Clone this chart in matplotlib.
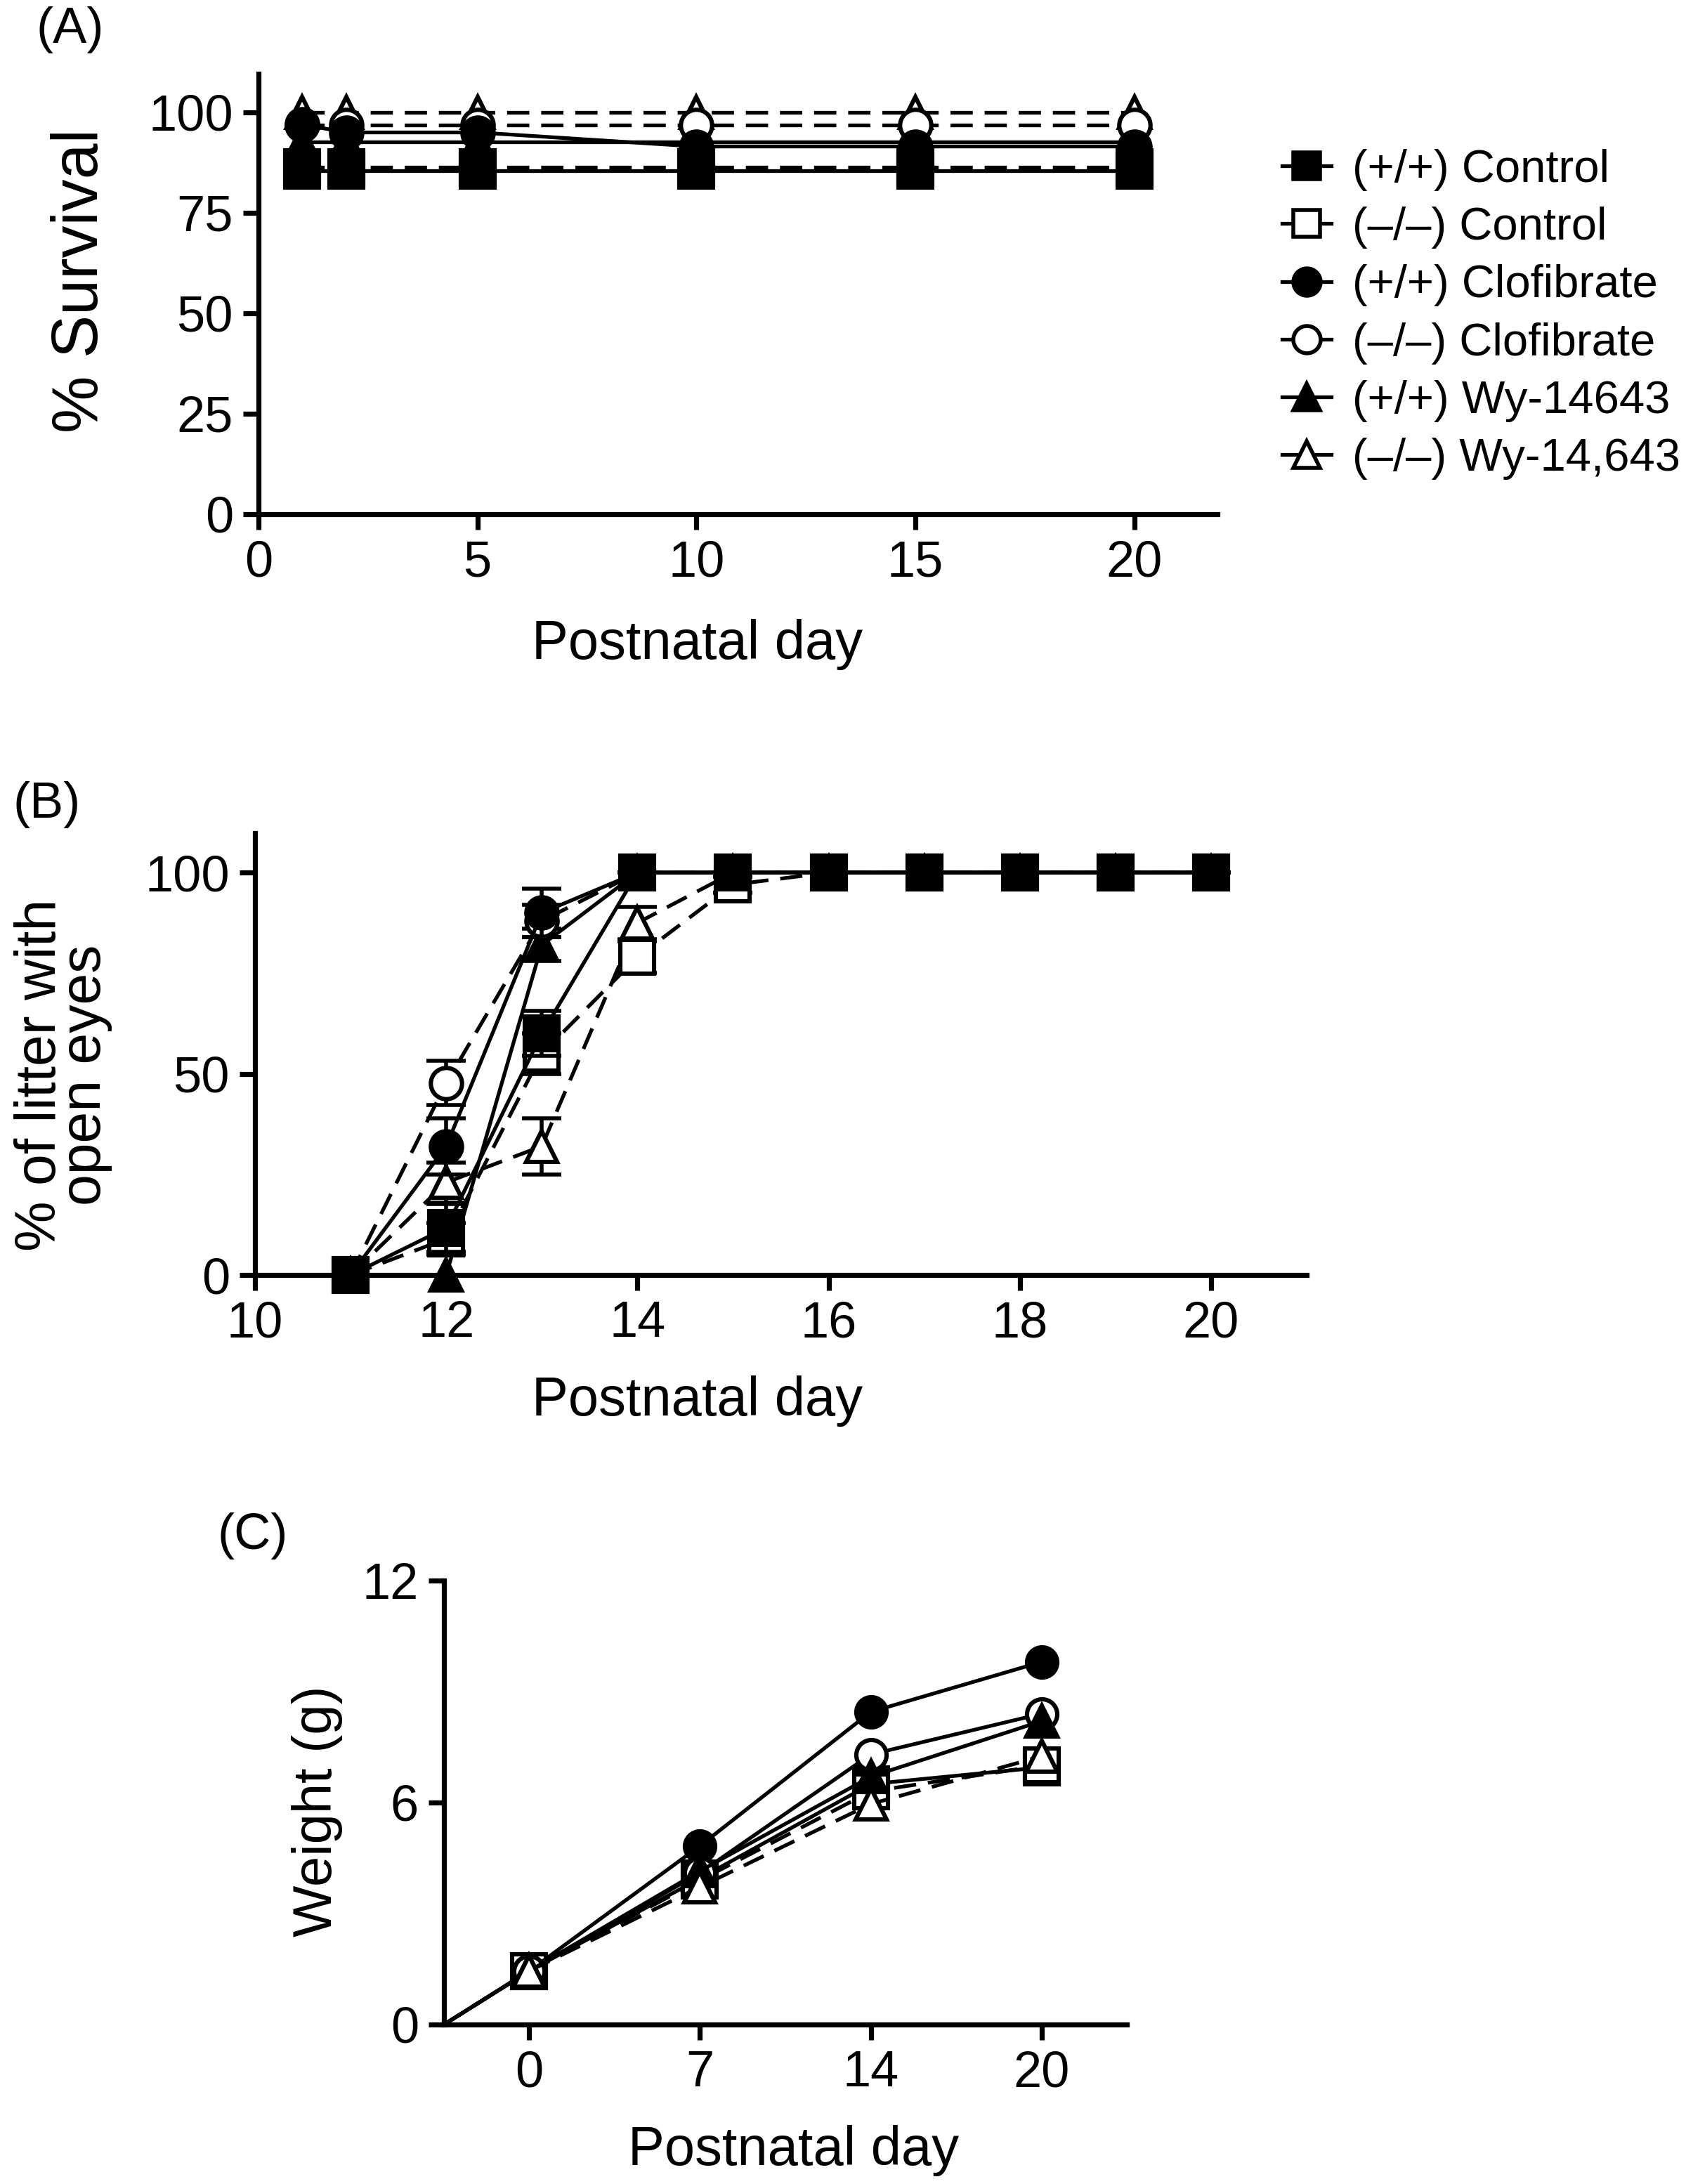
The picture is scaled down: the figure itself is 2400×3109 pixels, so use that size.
import matplotlib
matplotlib.use("Agg")
import matplotlib.pyplot as plt
from matplotlib.lines import Line2D

plt.rcParams["font.family"] = ["Liberation Sans", "DejaVu Sans"]

W, H = 2400, 3109
DPI = 200

# series (same order in all panels)
labels = ["(+/+) Control", "(\u2013/\u2013) Control",
          "(+/+) Clofibrate", "(\u2013/\u2013) Clofibrate",
          "(+/+) Wy-14643", "(\u2013/\u2013) Wy-14,643"]
markers = ["s", "s", "o", "o", "^", "^"]
filled = [True, False, True, False, True, False]
dashed = [False, True, False, True, False, True]
c_dashed = [False, True, False, False, False, True]

# (A) survival
a_days = [1, 2, 5, 10, 15, 20]
a_ctrl_wt = [85.5, 85.5, 85.5, 85.5, 85.5, 85.5]
a_ctrl_ko = [86.4, 86.4, 86.4, 86.4, 86.4, 86.4]
a_clof_wt = [97.0, 95.0, 95.0, 91.5, 91.5, 91.5]
a_clof_ko = [96.9, 96.9, 96.9, 96.9, 96.9, 96.9]
a_wy_wt = [92.7, 92.7, 92.7, 92.7, 92.7, 92.7]
a_wy_ko = [100, 100, 100, 100, 100, 100]

# (B) % of litter with open eyes
b_days = [11, 12, 13, 14, 15, 16, 17, 18, 19, 20]
b_ctrl_wt = [0, 11.7, 60, 100, 100, 100, 100, 100, 100, 100]
b_ctrl_ko = [0, 9, 55, 79, 97, 100, 100, 100, 100, 100]
b_clof_wt = [0, 32, 90, 100, 100, 100, 100, 100, 100, 100]
b_clof_ko = [0, 47.7, 88, 100, 100, 100, 100, 100, 100, 100]
b_wy_wt = [0, 0, 82, 100, 100, 100, 100, 100, 100, 100]
b_wy_ko = [0, 23, 32, 87.5, 100, 100, 100, 100, 100, 100]
b_ctrl_wt_err = [0, 6, 5.6, 0, 0, 0, 0, 0, 0, 0]
b_ctrl_ko_err = [0, 4, 5, 4, 2, 0, 0, 0, 0, 0]
b_clof_wt_err = [0, 7, 6, 0, 0, 0, 0, 0, 0, 0]
b_clof_ko_err = [0, 5.5, 4, 0, 0, 0, 0, 0, 0, 0]
b_wy_wt_err = [0, 0, 4, 0, 0, 0, 0, 0, 0, 0]
b_wy_ko_err = [0, 5, 7, 4, 0, 0, 0, 0, 0, 0]

# (C) weight
c_days = ["0", "7", "14", "20"]
c_start = 0.0
c_ctrl_wt = [1.45, 3.95, 6.5, 6.95]
c_ctrl_ko = [1.45, 3.9, 6.3, 7.0]
c_clof_wt = [1.45, 4.83, 8.45, 9.8]
c_clof_ko = [1.45, 4.1, 7.3, 8.4]
c_wy_wt = [1.45, 4.15, 6.7, 8.2]
c_wy_ko = [1.45, 3.72, 5.96, 7.25]

LW = 1.9
DASH = (0, (6, 3.2))


def px_axes(fig, x0, y0, x1, y1):
    # x0,y0 = left/top pixel, x1,y1 = right/bottom pixel
    return fig.add_axes([x0 / W, 1 - y1 / H, (x1 - x0) / W, (y1 - y0) / H])


def style(ax):
    for s in ["top", "right"]:
        ax.spines[s].set_visible(False)
    for s in ["left", "bottom"]:
        ax.spines[s].set_linewidth(2.6)
    ax.tick_params(width=2.6, length=8, labelsize=26, pad=5)


def draw(ax, x, y, i, ms, z, err=None, dash=None):
    mfc = "black" if filled[i] else "white"
    if dash is None:
        dash = dashed[i]
    ls = DASH if dash else "-"
    if err is not None:
        ax.errorbar(x, y, yerr=err, fmt="none", ecolor="black", elinewidth=2,
                    capsize=10, capthick=2, zorder=z - 0.5, clip_on=False)
    ax.plot(x, y, linestyle=ls, color="black", lw=LW, marker=markers[i],
            ms=ms, mfc=mfc, mec="black", mew=2.2, zorder=z, clip_on=False)


fig = plt.figure(figsize=(W / DPI, H / DPI), dpi=DPI)

# ---- (A)
ax = px_axes(fig, 368, 105, 1733, 732)
style(ax)
a_series = [a_ctrl_wt, a_ctrl_ko, a_clof_wt, a_clof_ko, a_wy_wt, a_wy_ko]
for i, ys in enumerate(a_series):
    sz = 17.5 if markers[i] == "s" else 16
    draw(ax, a_days, ys, i, sz, 10 - i)
ax.set_xlim(0, 21.9)
ax.set_ylim(0, 109.6)
ax.set_xticks([0, 5, 10, 15, 20])
ax.set_yticks([0, 25, 50, 75, 100])

handles = []
for i in range(6):
    handles.append(Line2D([], [], color="black", lw=LW, marker=markers[i], ms=14,
                          mfc="black" if filled[i] else "white", mec="black", mew=2))
fig.legend(handles, labels, loc="upper left", bbox_to_anchor=(1825 / W, 1 - 212 / H),
           frameon=False, fontsize=23.5, handlelength=1.07, handletextpad=0.46,
           labelspacing=0.34, borderpad=0, borderaxespad=0)

fig.text(100 / W, 1 - 42 / H, "(A)", fontsize=26, ha="center", va="center")
fig.text(115 / W, 1 - 400 / H, "% Survival", fontsize=33, rotation=90, ha="center", va="center")
fig.text(993 / W, 1 - 938 / H, "Postnatal day", fontsize=28, ha="center", va="baseline")

# ---- (B)
ax = px_axes(fig, 363, 1186, 1860, 1815)
style(ax)
b_series = [b_ctrl_wt, b_ctrl_ko, b_clof_wt, b_clof_ko, b_wy_wt, b_wy_ko]
b_errs = [b_ctrl_wt_err, b_ctrl_ko_err, b_clof_wt_err, b_clof_ko_err, b_wy_wt_err, b_wy_ko_err]
for i, ys in enumerate(b_series):
    sz = 17.5 if markers[i] == "s" else 16
    draw(ax, b_days, ys, i, sz, 10 - i, err=b_errs[i])
ax.set_xlim(10, 21.0)
ax.set_ylim(0, 109.8)
ax.set_xticks([10, 12, 14, 16, 18, 20])
ax.set_yticks([0, 50, 100])

fig.text(67 / W, 1 - 1146 / H, "(B)", fontsize=26, ha="center", va="center")
fig.text(90 / W, 1 - 1530 / H, "% of litter with\nopen eyes", fontsize=29, rotation=90,
         ha="center", va="center", linespacing=0.78)
fig.text(993 / W, 1 - 2015 / H, "Postnatal day", fontsize=28, ha="center", va="baseline")

# ---- (C)
ax = px_axes(fig, 632, 2250, 1604, 2882)
style(ax)
c_pos = list(range(len(c_days)))
x0 = -0.5
c_series = [c_ctrl_wt, c_ctrl_ko, c_clof_wt, c_clof_ko, c_wy_wt, c_wy_ko]
for i, ys in enumerate(c_series):
    ls = DASH if c_dashed[i] else "-"
    # line from the axis origin to the first point
    ax.plot([x0, c_pos[0]], [c_start, ys[0]], linestyle=ls, color="black", lw=LW,
            zorder=2 + i, clip_on=False)
    sz = 17 if markers[i] == "s" else 15.5
    draw(ax, c_pos, ys, i, sz, 3 + i, dash=c_dashed[i])
ax.set_xlim(x0, 3.5)
ax.set_ylim(0, 12)
ax.set_xticks(c_pos)
ax.set_xticklabels(c_days)
ax.set_yticks([0, 6, 12])

fig.text(360 / W, 1 - 2187 / H, "(C)", fontsize=26, ha="center", va="center")
fig.text(452 / W, 1 - 2578 / H, "Weight (g)", fontsize=28, rotation=90, ha="center", va="center")
fig.text(1130 / W, 1 - 3082 / H, "Postnatal day", fontsize=28, ha="center", va="baseline")

fig.savefig("out.png", dpi=DPI)
